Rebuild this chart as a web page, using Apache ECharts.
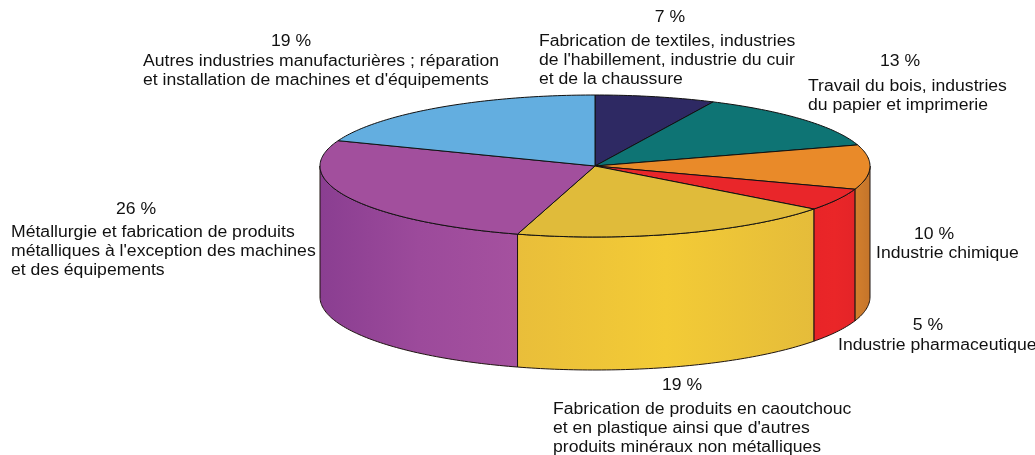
<!DOCTYPE html>
<html>
<head>
<meta charset="utf-8">
<script src="https://cdn.jsdelivr.net/npm/echarts@6/dist/echarts.min.js"></script>
<style>
  html, body { margin: 0; padding: 0; background: #fff; }
  #main { width: 1035px; height: 455px; }
</style>
</head>
<body>
<div id="main"></div>
<script>
// secteurs, dans le sens horaire depuis 12 h
const categories = [
  "Fabrication de textiles, industries\nde l'habillement, industrie du cuir\net de la chaussure",
  "Travail du bois, industries\ndu papier et imprimerie",
  "Industrie chimique",
  "Industrie pharmaceutique",
  "Fabrication de produits en caoutchouc\net en plastique ainsi que d'autres\nproduits minéraux non métalliques",
  "Métallurgie et fabrication de produits\nmétalliques à l'exception des machines\net des équipements",
  "Autres industries manufacturières ; réparation\net installation de machines et d'équipements"
];
const values = [7, 13, 10, 5, 19, 26, 19];

// couleurs du dessus et des flancs
const topColors = ['#2E2963', '#0E7474', '#E98A29', '#E9262A', '#E0BB3A', '#A24F9D', '#63AEE0'];
const wallColors = [
  ['#2E2963', '#2E2963', '#2E2963'],
  ['#0E7474', '#0E7474', '#0E7474'],
  ['#D4802C', '#CC7A2C', '#C4742A'],
  ['#E82428', '#EA2628', '#E42428'],
  ['#E9BE3A', '#F3CB36', '#E5BC3A'],
  ['#8A3E91', '#9C4A9B', '#A5519F'],
  ['#63AEE0', '#63AEE0', '#63AEE0']
];

// position des étiquettes (pourcentage centré, texte aligné à gauche)
const labelLayout = [
  { px: 670, py: 18, tx: 539, ty: 42 },
  { px: 900, py: 62, tx: 808, ty: 87 },
  { px: 934, py: 235, tx: 876, ty: 254 },
  { px: 928, py: 326, tx: 838, ty: 346 },
  { px: 682, py: 386, tx: 553, ty: 410 },
  { px: 136, py: 210, tx: 11, ty: 233 },
  { px: 291, py: 42, tx: 143, ty: 62 }
];

const cx = 595, cy = 166, rx = 275, ry = 71;
const depth = 131, ryBottom = 73;
const lineH = 18.8, fontSize = 16, textScale = 1.1;
const font = fontSize + 'px "Liberation Sans", Arial, sans-serif';

const total = values.reduce((a, b) => a + b, 0);
const starts = [];
values.reduce((acc, v, i) => { starts[i] = acc; return acc + v; }, 0);

function pt(deg, yc, r) {
  const t = deg * Math.PI / 180;
  return [cx + rx * Math.sin(t), yc - r * Math.cos(t)];
}

function arc(a, b, yc, r) {
  const pts = [];
  const n = Math.max(2, Math.ceil(Math.abs(b - a)));
  for (let k = 0; k <= n; k++) pts.push(pt(a + (b - a) * k / n, yc, r));
  return pts;
}

const chart = echarts.init(document.getElementById('main'), null, { renderer: 'canvas' });

chart.setOption({
  backgroundColor: '#fff',
  animation: false,
  series: [{
    type: 'custom',
    coordinateSystem: 'none',
    silent: true,
    data: values,
    renderItem: function (params, api) {
      const i = params.dataIndex;
      const a0 = starts[i] / total * 360;
      const a1 = a0 + api.value(0) / total * 360;
      const children = [];

      // flanc visible (moitié avant)
      const wa = Math.max(a0, 90), wb = Math.min(a1, 270);
      if (wa < wb) {
        const pts = arc(wa, wb, cy, ry).concat(arc(wb, wa, cy + depth, ryBottom));
        const wc = wallColors[i];
        children.push({
          type: 'polygon',
          shape: { points: pts },
          style: {
            fill: new echarts.graphic.LinearGradient(0, 0, 1, 0, [
              { offset: 0, color: wc[0] },
              { offset: 0.5, color: wc[1] },
              { offset: 1, color: wc[2] }
            ]),
            stroke: '#1e1410',
            lineWidth: 1
          }
        });
      }

      // dessus
      children.push({
        type: 'polygon',
        shape: { points: [[cx, cy]].concat(arc(a0, a1, cy, ry)) },
        style: { fill: topColors[i], stroke: '#111', lineWidth: 1, lineJoin: 'round' }
      });

      const L = labelLayout[i];
      children.push({
        type: 'text',
        x: L.px, y: L.py,
        scaleX: textScale,
        style: {
          text: api.value(0) + ' %',
          font: font, fill: '#111',
          align: 'center', verticalAlign: 'middle'
        }
      });
      children.push({
        type: 'text',
        x: L.tx, y: L.ty - lineH / 2,
        scaleX: textScale,
        style: {
          text: categories[i],
          font: font, fill: '#111', lineHeight: lineH,
          align: 'left', verticalAlign: 'top'
        }
      });

      return { type: 'group', children: children };
    }
  }]
});
</script>
</body>
</html>
